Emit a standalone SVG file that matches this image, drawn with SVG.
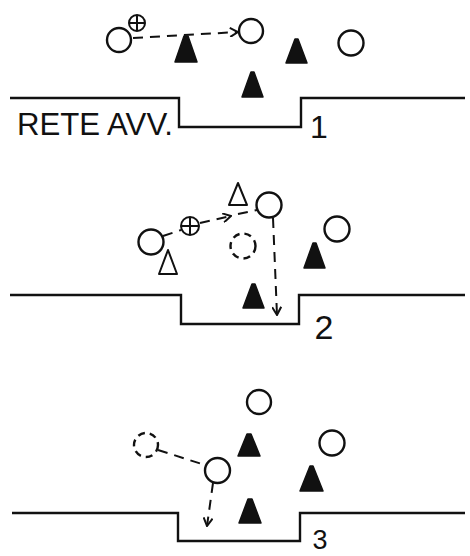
<svg xmlns="http://www.w3.org/2000/svg" width="470" height="556" viewBox="0 0 470 556">
<style>
.bg{fill:#ffffff}
.pl{fill:#ffffff;stroke:#111;stroke-width:2.4}
.ghost{fill:none;stroke:#111;stroke-width:2.4;stroke-dasharray:7 5}
.ball{fill:#ffffff;stroke:#111;stroke-width:2}
.def{fill:#111;stroke:#111;stroke-width:1.5;stroke-linejoin:round}
.opp{fill:#ffffff;stroke:#111;stroke-width:2;stroke-linejoin:round}
.goal{fill:none;stroke:#111;stroke-width:2.4}
.mv{fill:none;stroke:#111;stroke-width:2;stroke-dasharray:10 7}
.lbl{font-family:"Liberation Sans",Arial,sans-serif;fill:#111}
</style>
<defs>
<marker id="arr" viewBox="0 0 10 10" refX="9" refY="5" markerWidth="10" markerHeight="10" markerUnits="userSpaceOnUse" orient="auto">
<path d="M1,0.5 L9,5 L1,9.5" fill="none" stroke="#111" stroke-width="2"/>
</marker>
</defs>
<rect class="bg" x="0" y="0" width="470" height="556"/>

<!-- Panel 1 -->
<g id="goal1"><path class="goal" d="M10,98 H179 V127 H301 V98 H465"/></g>
<g id="label-rete"><text class="lbl" x="17" y="135" font-size="32" textLength="156" lengthAdjust="spacingAndGlyphs">RETE AVV.</text></g>
<g id="num1"><text class="lbl" x="319" y="138" font-size="32" text-anchor="middle">1</text></g>
<g id="p1-player-left"><circle class="pl" cx="119" cy="40" r="12"/></g>
<g id="p1-ball"><circle class="ball" cx="137" cy="23" r="8"/><path d="M129,23 H145 M137,15 V31" stroke="#111" stroke-width="2"/></g>
<g id="p1-player-mid"><circle class="pl" cx="251" cy="31" r="12"/></g>
<g id="p1-player-right"><circle class="pl" cx="351" cy="43" r="12.5"/></g>
<g id="p1-def1"><polygon class="def" points="184,36 188,36 197,62 175,62"/></g>
<g id="p1-def2"><polygon class="def" points="295,39 298,39 307,63 286,63"/></g>
<g id="p1-def3"><polygon class="def" points="251,72 254,72 263,97 242,97"/></g>

<!-- Panel 2 -->
<g id="goal2"><path class="goal" d="M10,295 H181 V324 H299 V295 H465"/></g>
<g id="num2"><text class="lbl" x="324" y="339" font-size="34" text-anchor="middle">2</text></g>
<g id="p2-player-left"><circle class="pl" cx="151" cy="242" r="12.5"/></g>
<g id="p2-ball"><circle class="ball" cx="190" cy="226" r="9"/><path d="M181,226 H199 M190,217 V235" stroke="#111" stroke-width="2"/></g>
<g id="p2-player-top"><circle class="pl" cx="269" cy="205" r="12.5"/></g>
<g id="p2-ghost"><circle class="ghost" cx="243" cy="246" r="12.5"/></g>
<g id="p2-player-right"><circle class="pl" cx="337" cy="229" r="12.5"/></g>
<g id="p2-opp-top"><polygon class="opp" points="238,183 247,205 229,205"/></g>
<g id="p2-opp-left"><polygon class="opp" points="168,250 177,274 159,274"/></g>
<g id="p2-def-right"><polygon class="def" points="313,243 316,243 325,268 304,268"/></g>
<g id="p2-def-bottom"><polygon class="def" points="252,284 255,284 264,308 243,308"/></g>

<!-- Panel 3 -->
<g id="goal3"><path class="goal" d="M12,513 H178 V541 H300 V513 H465"/></g>
<g id="num3"><text class="lbl" x="320" y="549" font-size="27" text-anchor="middle">3</text></g>
<g id="p3-player-top"><circle class="pl" cx="259" cy="402" r="12"/></g>
<g id="p3-ghost"><circle class="ghost" cx="146" cy="445" r="12" stroke-dasharray="22 6 9 40"/></g>
<g id="p3-player-mid"><circle class="pl" cx="217.5" cy="470.5" r="12.5"/></g>
<g id="p3-player-right"><circle class="pl" cx="332" cy="443" r="12.5"/></g>
<g id="p3-def-top"><polygon class="def" points="247,434 251,434 260,456 238,456"/></g>
<g id="p3-def-right"><polygon class="def" points="310,466 313,466 323,491 300,491"/></g>
<g id="p3-def-bottom"><polygon class="def" points="248,499 252,499 261,523 239,523"/></g>

<!-- Connectors -->
<g id="connectors">
<path class="mv" d="M133,38 L238,32" marker-end="url(#arr)"/>
<path class="mv" d="M163,236 L181,230"/>
<path class="mv" d="M200,223 L231,216" marker-end="url(#arr)"/>
<path class="mv" d="M238,214 L257,210"/>
<path class="mv" d="M273,218 L277,315" marker-end="url(#arr)"/>
<path class="mv" d="M158,450 L205,465"/>
<path class="mv" d="M213,483 L207,526" marker-end="url(#arr)"/>
</g>
</svg>
